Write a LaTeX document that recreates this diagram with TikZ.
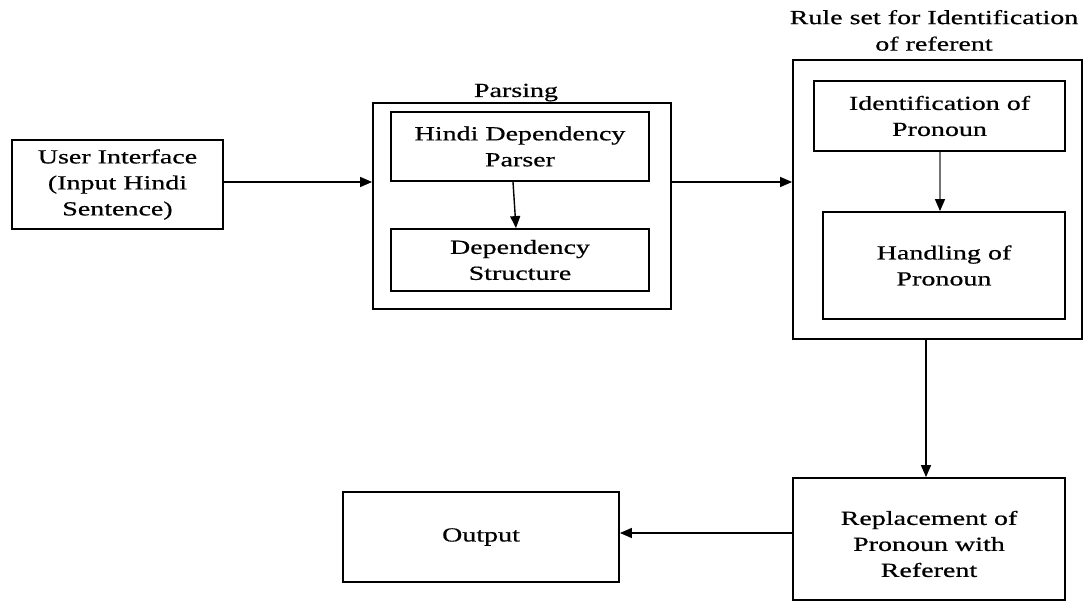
\documentclass[tikz,border=0pt]{standalone}
\usepackage{fontspec}
\setmainfont{Liberation Serif}[FakeStretch=1.4,FakeBold=0.6]
\usetikzlibrary{arrows.meta}
\begin{document}
\begin{tikzpicture}[x=1pt,y=-1pt,
  box/.style={draw, line width=1.8pt, align=center, inner sep=0pt,
    font=\fontsize{20}{26}\selectfont},
  frame/.style={draw, line width=1.8pt, inner sep=0pt},
  caption/.style={align=center, inner sep=0pt,
    font=\fontsize{20}{26.5}\selectfont},
  flow/.style={-{Triangle[length=12pt,width=10pt]}, line width=1.4pt},
]
\useasboundingbox (0,0) rectangle (1088,601);

% input
\node[box, minimum width=211pt, minimum height=89pt] (ui) at (117.5,184.5)
  {User Interface\\(Input Hindi\\Sentence)};

% parsing stage
\node[frame, minimum width=298pt, minimum height=206pt] (parsing) at (522,206) {};
\node[caption, anchor=base] (parsinglbl) at (516,97) {Parsing};
\node[box, minimum width=258pt, minimum height=69pt] (parser) at (520,146.5)
  {Hindi Dependency\\Parser};
\node[box, minimum width=258pt, minimum height=62pt] (dep) at (520,260)
  {Dependency\\Structure};

% rule set stage
\node[frame, minimum width=289pt, minimum height=279pt] (rule) at (937.5,199.5) {};
\node[caption, anchor=south] (rulelbl) at (934,51)
  {Rule set for Identification\\of referent};
\node[box, minimum width=251pt, minimum height=70pt] (ident) at (939.5,116)
  {Identification of\\Pronoun};
\node[box, minimum width=242pt, minimum height=107pt] (handling) at (944,265.5)
  {Handling of\\Pronoun};

% replacement and output
\node[box, minimum width=272pt, minimum height=122pt] (repl) at (929,539)
  {\rule{0pt}{24pt}Replacement of\\Pronoun with\\Referent};
\node[box, minimum width=276pt, minimum height=90pt] (output) at (481,537)
  {\raisebox{4pt}{Output}};

% connectors
\draw[flow] (ui.east |- 0,182) -- (parsing.west |- 0,182);
\draw[flow] ([xshift=-7pt]parser.south) -- ([xshift=-4pt]dep.north);
\draw[flow] (parsing.east |- 0,182) -- (rule.west |- 0,182);
\draw[flow, draw=black!55, -{Triangle[length=12pt,width=10pt,color=black]}]
  (ident.south -| 940,0) -- (handling.north -| 940,0);
\draw[flow] (rule.south -| 926,0) -- (repl.north -| 926,0);
\draw[flow] (repl.west |- 0,533) -- (output.east |- 0,533);
\end{tikzpicture}
\end{document}
